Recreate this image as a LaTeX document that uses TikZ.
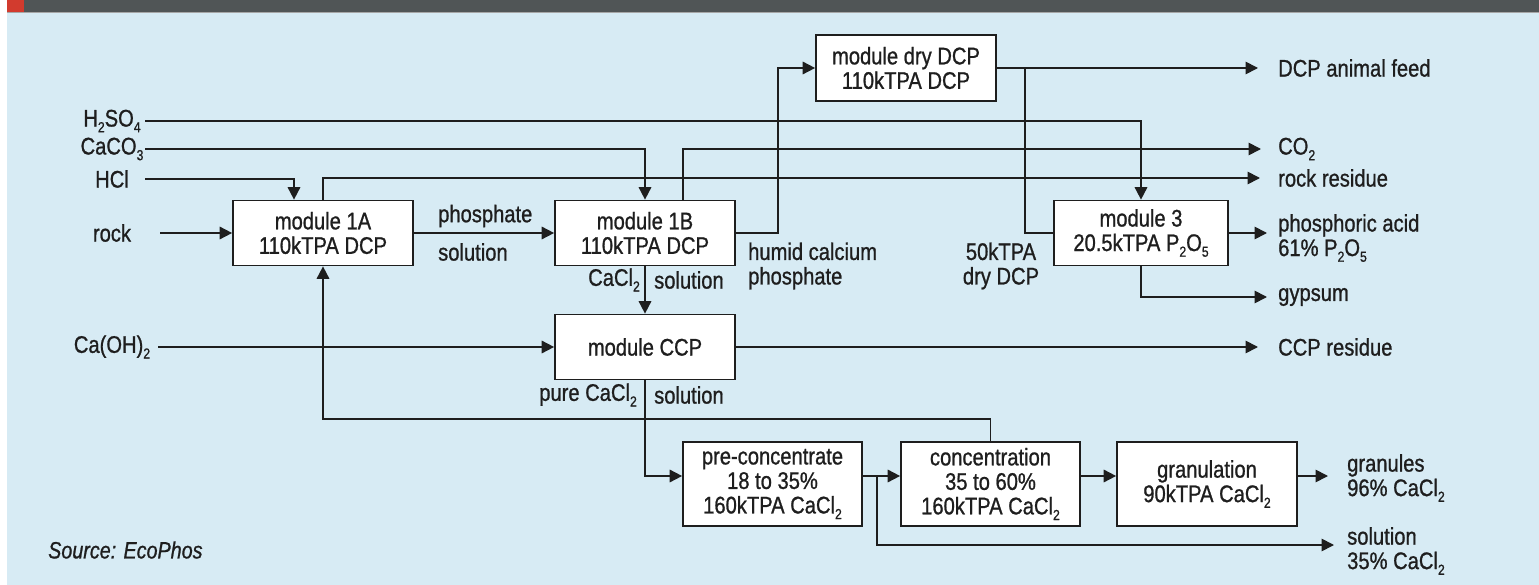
\documentclass[tikz,border=0pt]{standalone}
\usepackage{fontspec}
\setmainfont{Liberation Sans}[FakeStretch=0.84,FakeBold=0.9]
\usetikzlibrary{arrows.meta}
\newcommand\sbs[1]{\raisebox{-0.45ex}{\fontsize{14.5}{14.5}\selectfont #1}}
\definecolor{bgblue}{HTML}{D7EBF4}
\definecolor{hdr}{HTML}{505556}
\definecolor{hred}{HTML}{D23B2E}
\definecolor{ink}{HTML}{1E1E1E}
\begin{document}
\begin{tikzpicture}[x=1pt,y=-1pt,
  every node/.style={font=\fontsize{24}{24.5}\selectfont, text=ink, inner sep=0pt},
  box/.style={draw=ink, fill=white, line width=1.7pt, align=center, minimum width=180pt, minimum height=65pt},
  lab/.style={align=left},
  conn/.style={draw=ink, line width=1.7pt},
  arr/.style={conn, -{Triangle[length=12.5pt,width=12.5pt]}}]
\useasboundingbox (0,0) rectangle (1539,585);
% background
\fill[white] (0,0) rectangle (1539,585);
\fill[bgblue] (7,12) rectangle (1539,585);
\fill[hdr] (7,0) rectangle (1539,12);
\fill[hred] (7,0) rectangle (24,12);
\draw[gray!70, line width=0.8pt] (7,12) -- (1539,12);

% boxes
\node[box] (m1a) at (323,233) {module 1A\\110kTPA DCP};
\node[box] (m1b) at (645,233) {module 1B\\110kTPA DCP};
\node[box, minimum height=66pt] (dry) at (906,68) {module dry DCP\\110kTPA DCP};
\node[box, minimum width=174pt] (m3) at (1141,233) {module 3\\20.5kTPA P\sbs2O\sbs5};
\node[box] (ccp) at (645,347) {module CCP};
\node[box, minimum width=179pt, minimum height=84pt] (pc) at (772.5,484) {pre-concentrate\\18 to 35\%\\160kTPA CaCl\sbs2};
\node[box, minimum width=179pt, minimum height=84pt] (conc) at (990.5,484) {concentration\\35 to 60\%\\160kTPA CaCl\sbs2};
\node[box, minimum height=84pt] (gran) at (1207,484) {granulation\\90kTPA CaCl\sbs2};

% left labels
\node (lH) at (112,121) {H\sbs2SO\sbs4};
\node (lCa) at (112,149) {CaCO\sbs3};
\node (lHCl) at (112,179) {HCl};
\node (lrock) at (112,233) {rock};
\node (lOH) at (112,347) {Ca(OH)\sbs2};

% right labels
\node[anchor=west] (lfeed) at (1278,68) {DCP animal feed};
\node[anchor=west] (lco2) at (1278,149) {CO\sbs2};
\node[anchor=west] (lrr) at (1278,178) {rock residue};
\node[anchor=west, lab] (lpa) at (1278,238) {phosphoric acid\\61\% P\sbs2O\sbs5};
\node[anchor=west] (lgyp) at (1278,297) {gypsum};
\node[anchor=west] (lccpr) at (1278,347) {CCP residue};
\node[anchor=west, lab] (lgr) at (1347,478) {granules\\96\% CaCl\sbs2};
\node[anchor=west, lab] (lsol) at (1347,551) {solution\\35\% CaCl\sbs2};

% inner labels
\node[anchor=west] (lphos) at (438,216) {phosphate};
\node[anchor=west] (lsolA) at (438,252) {solution};
\node[anchor=west, lab] (lhum) at (748,266) {humid calcium\\phosphate};
\node[anchor=east] (lcacl) at (640,280) {CaCl\sbs2};
\node[anchor=west] (lsolB) at (654,280) {solution};
\node[align=center] (l50) at (1001,266) {50kTPA\\dry DCP};
\node[anchor=east] (lpure) at (637,395) {pure CaCl\sbs2};
\node[anchor=west] (lsolC) at (654,395) {solution};
\node[anchor=west, font=\fontsize{23.5}{24.5}\selectfont\itshape] (src) at (48,550) {Source: EcoPhos};

% free ends
\coordinate (inH) at (145,121);
\coordinate (inCa) at (145,149);
\coordinate (inHCl) at (145,179);
\coordinate (inRock) at (160,233);
\coordinate (inOH) at (158,347);
\coordinate (outFeed) at (1258,68);
\coordinate (outCO2) at (1261,149);
\coordinate (outRR) at (1260,178);
\coordinate (outPA) at (1267,233);
\coordinate (outGyp) at (1267,297);
\coordinate (outCCP) at (1258,347);
\coordinate (outGran) at (1328,476);
\coordinate (outSol) at (1334,545);
\coordinate (rowB) at (0,476);
\coordinate (br1) at (1025,68);
\coordinate (br2) at (877,476);

% connectors
\draw[arr] (inH) -| (m3.north);
\draw[arr] (inCa) -| (m1b.north);
\draw[arr] (inHCl) -| ([xshift=-29pt]m1a.north);
\draw[arr] (inRock) -- (m1a.west);
\draw[arr] (m1a.north) |- (outRR);
\draw[arr] ([xshift=38pt]m1b.north) |- (outCO2);
\draw[arr] (m1a.east) -- (m1b.west);
\draw[arr] (m1b.east) -- ++(42,0) |- (dry.west);
\draw[arr] (dry.east) -- (outFeed);
\draw[conn] (br1) |- (m3.west);
\draw[arr] (m3.east) -- (outPA);
\draw[arr] (m3.south) |- (outGyp);
\draw[arr] (m1b.south) -- (ccp.north);
\draw[arr] (inOH) -- (ccp.west);
\draw[arr] (ccp.east) -- (outCCP);
\draw[arr] (ccp.south) |- (pc.west |- rowB);
\draw[arr] (conc.north) -- ++(0,-22) -| (m1a.south);
\draw[arr] (pc.east |- rowB) -- (conc.west |- rowB);
\draw[arr] (conc.east |- rowB) -- (gran.west |- rowB);
\draw[arr] (gran.east |- rowB) -- (outGran);
\draw[arr] (br2) |- (outSol);
\end{tikzpicture}
\end{document}
